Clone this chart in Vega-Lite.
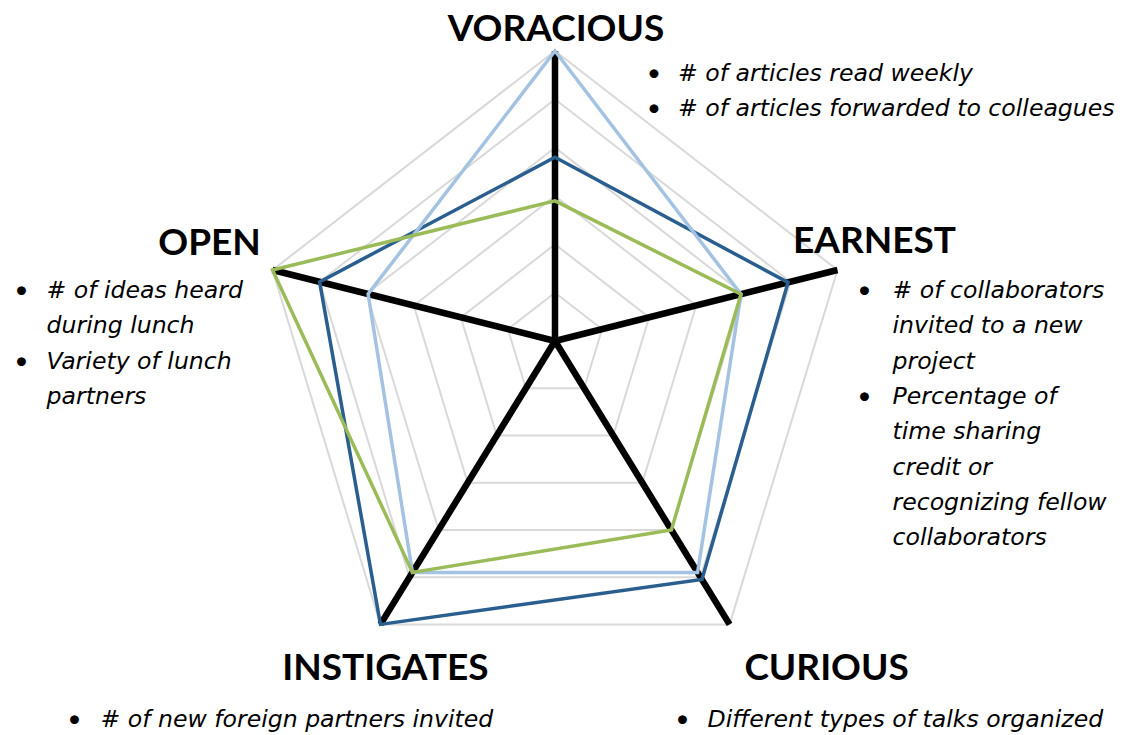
{
  "$schema": "https://vega.github.io/schema/vega-lite/v6.json",
  "width": 1135,
  "height": 735,
  "padding": 0,
  "autosize": {"type": "none"},
  "background": "white",
  "config": {"view": {"stroke": null}},
  "data": {
    "values": [
      {"kind": "score", "series": "A", "cat": "VORACIOUS", "order": 0, "value": 3.8},
      {"kind": "score", "series": "A", "cat": "EARNEST", "order": 1, "value": 4.95},
      {"kind": "score", "series": "A", "cat": "CURIOUS", "order": 2, "value": 5.05},
      {"kind": "score", "series": "A", "cat": "INSTIGATES", "order": 3, "value": 6},
      {"kind": "score", "series": "A", "cat": "OPEN", "order": 4, "value": 5.0},
      {"kind": "score", "series": "B", "cat": "VORACIOUS", "order": 0, "value": 6},
      {"kind": "score", "series": "B", "cat": "EARNEST", "order": 1, "value": 3.95},
      {"kind": "score", "series": "B", "cat": "CURIOUS", "order": 2, "value": 4.9},
      {"kind": "score", "series": "B", "cat": "INSTIGATES", "order": 3, "value": 4.9},
      {"kind": "score", "series": "B", "cat": "OPEN", "order": 4, "value": 3.97},
      {"kind": "score", "series": "C", "cat": "VORACIOUS", "order": 0, "value": 2.9},
      {"kind": "score", "series": "C", "cat": "EARNEST", "order": 1, "value": 3.95},
      {"kind": "score", "series": "C", "cat": "CURIOUS", "order": 2, "value": 4.0},
      {"kind": "score", "series": "C", "cat": "INSTIGATES", "order": 3, "value": 4.9},
      {"kind": "score", "series": "C", "cat": "OPEN", "order": 4, "value": 6},
      {"kind": "ring", "order": 0, "value": 1}, {"kind": "ring", "order": 1, "value": 1}, {"kind": "ring", "order": 2, "value": 1}, {"kind": "ring", "order": 3, "value": 1}, {"kind": "ring", "order": 4, "value": 1},
      {"kind": "ring", "order": 0, "value": 2}, {"kind": "ring", "order": 1, "value": 2}, {"kind": "ring", "order": 2, "value": 2}, {"kind": "ring", "order": 3, "value": 2}, {"kind": "ring", "order": 4, "value": 2},
      {"kind": "ring", "order": 0, "value": 3}, {"kind": "ring", "order": 1, "value": 3}, {"kind": "ring", "order": 2, "value": 3}, {"kind": "ring", "order": 3, "value": 3}, {"kind": "ring", "order": 4, "value": 3},
      {"kind": "ring", "order": 0, "value": 4}, {"kind": "ring", "order": 1, "value": 4}, {"kind": "ring", "order": 2, "value": 4}, {"kind": "ring", "order": 3, "value": 4}, {"kind": "ring", "order": 4, "value": 4},
      {"kind": "ring", "order": 0, "value": 5}, {"kind": "ring", "order": 1, "value": 5}, {"kind": "ring", "order": 2, "value": 5}, {"kind": "ring", "order": 3, "value": 5}, {"kind": "ring", "order": 4, "value": 5},
      {"kind": "ring", "order": 0, "value": 6}, {"kind": "ring", "order": 1, "value": 6}, {"kind": "ring", "order": 2, "value": 6}, {"kind": "ring", "order": 3, "value": 6}, {"kind": "ring", "order": 4, "value": 6},
      {"kind": "cat", "cat": "VORACIOUS", "order": 0, "value": 6, "title": "VORACIOUS", "bullets": "•|•", "note": "# of articles read weekly|# of articles forwarded to colleagues"},
      {"kind": "cat", "cat": "EARNEST", "order": 1, "value": 6, "title": "EARNEST", "bullets": "•|•", "note": "# of collaborators|invited to a new|project|Percentage of|time sharing|credit or|recognizing fellow|collaborators"},
      {"kind": "cat", "cat": "CURIOUS", "order": 2, "value": 6, "title": "CURIOUS", "bullets": "•", "note": "Different types of talks organized"},
      {"kind": "cat", "cat": "INSTIGATES", "order": 3, "value": 6, "title": "INSTIGATES", "bullets": "•", "note": "# of new foreign partners invited"},
      {"kind": "cat", "cat": "OPEN", "order": 4, "value": 6, "title": "OPEN", "bullets": "•|•", "note": "# of ideas heard|during lunch|Variety of lunch|partners"}
    ]
  },
  "transform": [
    {"calculate": "datum.order * 2 * PI / 5", "as": "theta"},
    {"calculate": "datum.value * sin(datum.theta)", "as": "px"},
    {"calculate": "datum.value * (cos(datum.theta) - 0.085)", "as": "py"}
  ],
  "encoding": {
    "x": {"field": "px", "type": "quantitative", "axis": null, "scale": {"domain": [-11.212, 11.717], "nice": false, "zero": false}},
    "y": {"field": "py", "type": "quantitative", "axis": null, "scale": {"domain": [-7.458, 6.455], "nice": false, "zero": false}}
  },
  "layer": [
    {
      "transform": [{"filter": "datum.kind == 'ring'"}],
      "mark": {"type": "line", "interpolate": "linear-closed", "stroke": "#d9d9d9", "strokeWidth": 2},
      "encoding": {"detail": {"field": "value", "type": "nominal"}, "order": {"field": "order", "type": "quantitative"}}
    },
    {
      "transform": [{"filter": "datum.kind == 'cat'"}],
      "mark": {"type": "rule", "stroke": "black", "strokeWidth": 6.5, "strokeCap": "butt"},
      "encoding": {"x2": {"datum": 0}, "y2": {"datum": 0}}
    },
    {
      "transform": [{"filter": "datum.kind == 'score'"}],
      "mark": {"type": "line", "interpolate": "linear-closed", "strokeWidth": 3.5, "strokeJoin": "miter"},
      "encoding": {
        "color": {"field": "series", "type": "nominal", "legend": null, "scale": {"domain": ["A", "B", "C"], "range": ["#2a5e8e", "#a4c2e1", "#9bbb59"]}},
        "order": {"field": "order", "type": "quantitative"}
      }
    },
    {"transform": [{"filter": "datum.kind == 'cat' && datum.cat == 'VORACIOUS'"}], "mark": {"type": "text", "align": "center", "baseline": "alphabetic", "dx": 1, "dy": -10, "font": "Lato", "fontWeight": "bold", "fontSize": 37, "color": "black"}, "encoding": {"text": {"field": "title"}}},
    {"transform": [{"filter": "datum.kind == 'cat' && datum.cat == 'VORACIOUS'"}], "mark": {"type": "text", "align": "left", "baseline": "alphabetic", "dx": 92, "dy": 30, "font": "Lato", "fontSize": 24, "lineBreak": "|", "lineHeight": 35.3, "color": "black"}, "encoding": {"text": {"field": "bullets"}}},
    {"transform": [{"filter": "datum.kind == 'cat' && datum.cat == 'VORACIOUS'"}], "mark": {"type": "text", "align": "left", "baseline": "alphabetic", "dx": 123, "dy": 30, "font": "DejaVu Sans", "fontStyle": "italic", "fontSize": 23.6, "lineBreak": "|", "lineHeight": 35.3, "color": "black"}, "encoding": {"text": {"field": "note"}}},
    {"transform": [{"filter": "datum.kind == 'cat' && datum.cat == 'EARNEST'"}], "mark": {"type": "text", "align": "center", "baseline": "alphabetic", "dx": 37, "dy": -17, "font": "Lato", "fontWeight": "bold", "fontSize": 37, "color": "black"}, "encoding": {"text": {"field": "title"}}},
    {"transform": [{"filter": "datum.kind == 'cat' && datum.cat == 'EARNEST'"}], "mark": {"type": "text", "align": "left", "baseline": "alphabetic", "dx": 20, "dy": 28, "font": "Lato", "fontSize": 24, "lineBreak": "|", "lineHeight": 105.9, "color": "black"}, "encoding": {"text": {"field": "bullets"}}},
    {"transform": [{"filter": "datum.kind == 'cat' && datum.cat == 'EARNEST'"}], "mark": {"type": "text", "align": "left", "baseline": "alphabetic", "dx": 55, "dy": 28, "font": "DejaVu Sans", "fontStyle": "italic", "fontSize": 23.6, "lineBreak": "|", "lineHeight": 35.3, "color": "black"}, "encoding": {"text": {"field": "note"}}},
    {"transform": [{"filter": "datum.kind == 'cat' && datum.cat == 'CURIOUS'"}], "mark": {"type": "text", "align": "center", "baseline": "alphabetic", "dx": 97, "dy": 56, "font": "Lato", "fontWeight": "bold", "fontSize": 37, "color": "black"}, "encoding": {"text": {"field": "title"}}},
    {"transform": [{"filter": "datum.kind == 'cat' && datum.cat == 'CURIOUS'"}], "mark": {"type": "text", "align": "left", "baseline": "alphabetic", "dx": -54, "dy": 103, "font": "Lato", "fontSize": 24, "lineBreak": "|", "lineHeight": 35.3, "color": "black"}, "encoding": {"text": {"field": "bullets"}}},
    {"transform": [{"filter": "datum.kind == 'cat' && datum.cat == 'CURIOUS'"}], "mark": {"type": "text", "align": "left", "baseline": "alphabetic", "dx": -22, "dy": 103, "font": "DejaVu Sans", "fontStyle": "italic", "fontSize": 23.6, "lineBreak": "|", "lineHeight": 35.3, "color": "black"}, "encoding": {"text": {"field": "note"}}},
    {"transform": [{"filter": "datum.kind == 'cat' && datum.cat == 'INSTIGATES'"}], "mark": {"type": "text", "align": "center", "baseline": "alphabetic", "dx": 5, "dy": 56, "font": "Lato", "fontWeight": "bold", "fontSize": 37, "color": "black"}, "encoding": {"text": {"field": "title"}}},
    {"transform": [{"filter": "datum.kind == 'cat' && datum.cat == 'INSTIGATES'"}], "mark": {"type": "text", "align": "left", "baseline": "alphabetic", "dx": -313, "dy": 103, "font": "Lato", "fontSize": 24, "lineBreak": "|", "lineHeight": 35.3, "color": "black"}, "encoding": {"text": {"field": "bullets"}}},
    {"transform": [{"filter": "datum.kind == 'cat' && datum.cat == 'INSTIGATES'"}], "mark": {"type": "text", "align": "left", "baseline": "alphabetic", "dx": -280, "dy": 103, "font": "DejaVu Sans", "fontStyle": "italic", "fontSize": 23.6, "lineBreak": "|", "lineHeight": 35.3, "color": "black"}, "encoding": {"text": {"field": "note"}}},
    {"transform": [{"filter": "datum.kind == 'cat' && datum.cat == 'OPEN'"}], "mark": {"type": "text", "align": "center", "baseline": "alphabetic", "dx": -63, "dy": -15, "font": "Lato", "fontWeight": "bold", "fontSize": 37, "color": "black"}, "encoding": {"text": {"field": "title"}}},
    {"transform": [{"filter": "datum.kind == 'cat' && datum.cat == 'OPEN'"}], "mark": {"type": "text", "align": "left", "baseline": "alphabetic", "dx": -258, "dy": 28, "font": "Lato", "fontSize": 24, "lineBreak": "|", "lineHeight": 70.6, "color": "black"}, "encoding": {"text": {"field": "bullets"}}},
    {"transform": [{"filter": "datum.kind == 'cat' && datum.cat == 'OPEN'"}], "mark": {"type": "text", "align": "left", "baseline": "alphabetic", "dx": -226, "dy": 28, "font": "DejaVu Sans", "fontStyle": "italic", "fontSize": 23.6, "lineBreak": "|", "lineHeight": 35.3, "color": "black"}, "encoding": {"text": {"field": "note"}}}
  ]
}
